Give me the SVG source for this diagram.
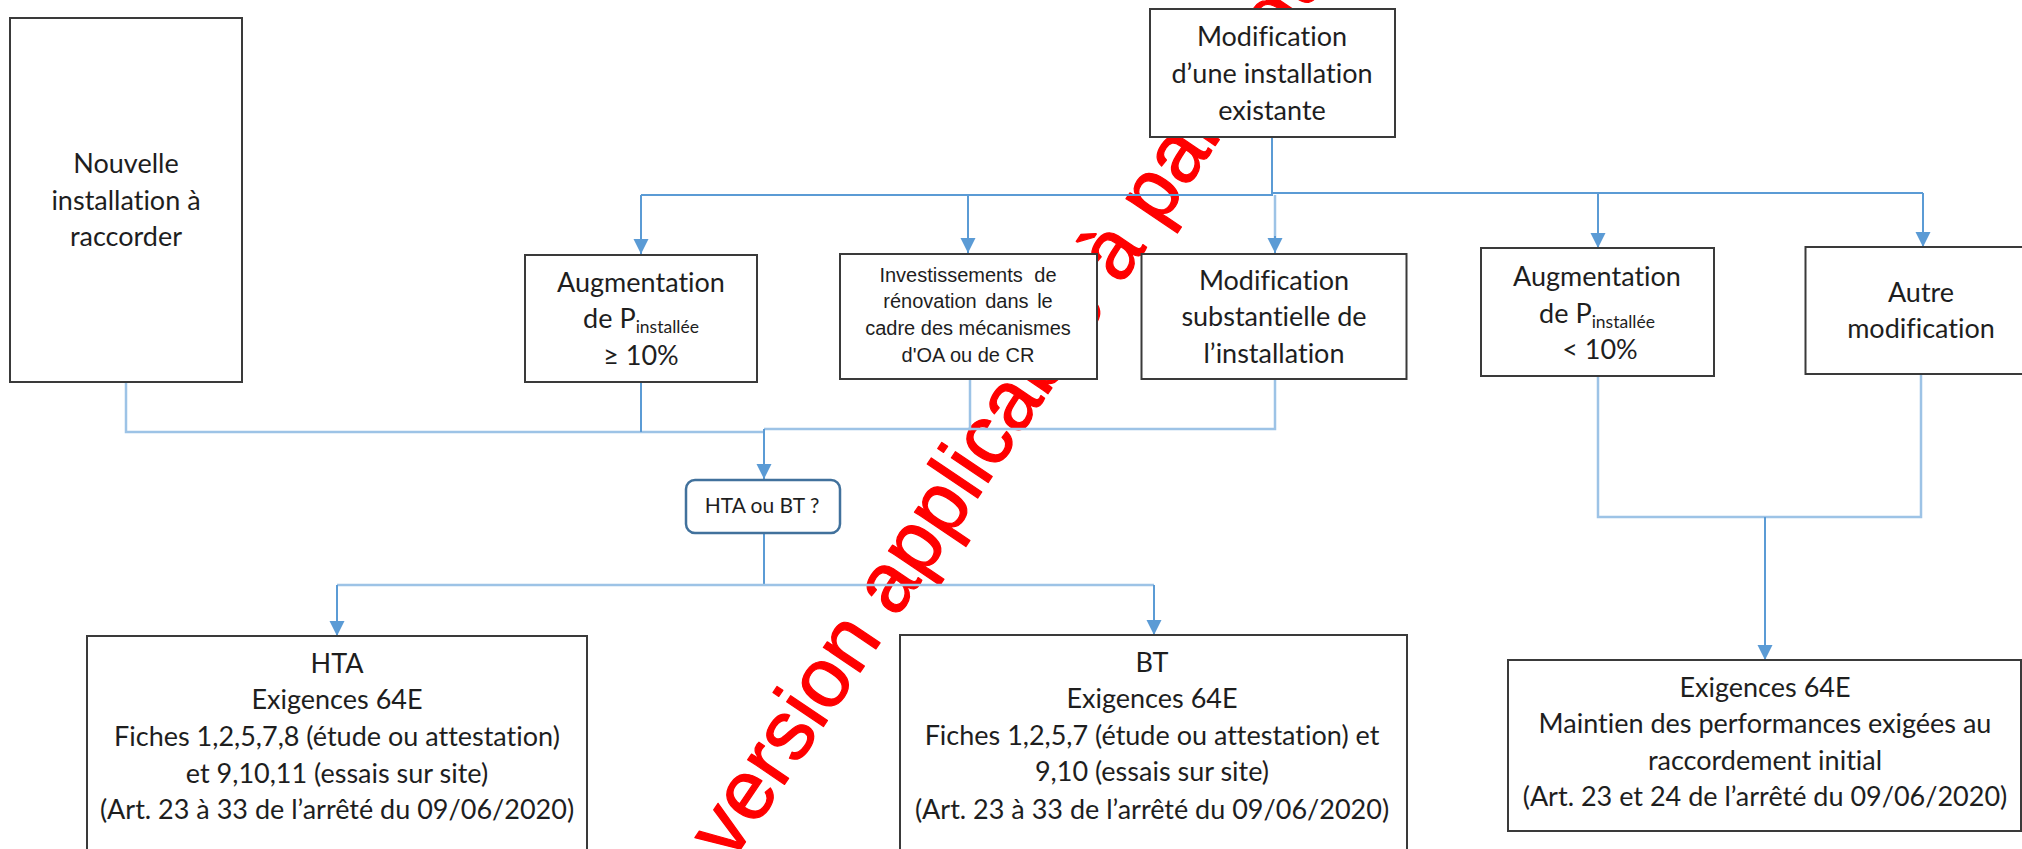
<svg xmlns="http://www.w3.org/2000/svg" width="2022" height="849" viewBox="0 0 2022 849">
  <style>
    .box { fill: #ffffff; stroke: #3a3a3a; stroke-width: 2; }
    .decision { fill: #ffffff; stroke: #41719c; stroke-width: 2.5; }
    .t { font-family: Lato, "Liberation Sans", sans-serif; font-size: 27px; fill: #1e1e1e; text-anchor: middle; font-variant-ligatures: none; }
    .sub { font-size: 17.5px; }
    .small { font-family: "Liberation Sans", Arial, sans-serif; font-size: 20px; fill: #1e1e1e; text-anchor: middle; }
    .q { font-family: Lato, "Liberation Sans", sans-serif; font-size: 21px; fill: #1e1e1e; text-anchor: middle; }
    .wire { fill: none; stroke: #5b9bd5; stroke-width: 2; }
    .wire-light { fill: none; stroke: #9dc3e6; stroke-width: 2.5; }
    .arrow { fill: none; stroke: #5b9bd5; stroke-width: 2; marker-end: url(#head); }
    .watermark { font-family: "Liberation Sans", Arial, sans-serif; font-size: 84px; fill: #ff0000; stroke: #ff0000; stroke-width: 1.2; stroke-linejoin: round; }
  </style>
  <defs>
    <marker id="head" markerUnits="userSpaceOnUse" markerWidth="16" markerHeight="16" refX="15" refY="7.5" orient="auto">
      <path d="M0,0 L15,7.5 L0,15 z" fill="#5b9bd5"/>
    </marker>
  </defs>

  <rect width="2022" height="849" fill="#ffffff"/>

  <!-- diagonal red stamp behind the chart -->
  <text class="watermark" transform="translate(731.6,862.8) rotate(-56)">version applicable à partir du</text>

  <g id="connectors">
    <!-- fan-out from the existing installation -->
    <path class="wire" d="M1272,137 V195 H641"/>
    <path class="arrow" d="M641,195 V254"/>
    <path class="arrow" d="M968,195 V253"/>
    <path class="wire-light" d="M1275,195 V238"/>
    <path class="arrow" d="M1275,236 V253"/>
    <path class="wire" d="M1273,193 H1923"/>
    <path class="arrow" d="M1598,193 V248"/>
    <path class="arrow" d="M1923,193 V247"/>
    <!-- merge towards the voltage question -->
    <path class="wire-light" d="M126,382 V432 H764"/>
    <path class="wire" d="M641,382 V432"/>
    <path class="wire-light" d="M970,379 V429 H764"/>
    <path class="wire-light" d="M1275,379 V429 H968"/>
    <path class="arrow" d="M764,429 V479"/>
    <!-- HTA / BT split -->
    <path class="wire" d="M764,534 V585"/>
    <path class="wire-light" d="M337,585 H1154"/>
    <path class="arrow" d="M337,585 V636"/>
    <path class="arrow" d="M1154,585 V635"/>
    <!-- small changes -->
    <path class="wire-light" d="M1598,376 V517 H1921 V374"/>
    <path class="arrow" d="M1765,517 V660"/>
  </g>

  <g id="nouvelle">
    <rect class="box" x="10" y="18" width="232" height="364"/>
    <text class="t" x="126" y="173">Nouvelle</text>
    <text class="t" x="126" y="209.5">installation à</text>
    <text class="t" x="126" y="246">raccorder</text>
  </g>

  <g id="modification">
    <rect class="box" x="1150" y="9" width="245" height="128"/>
    <text class="t" x="1272" y="46">Modification</text>
    <text class="t" x="1272" y="83">d’une installation</text>
    <text class="t" x="1272" y="119.5">existante</text>
  </g>

  <g id="augmentation-plus">
    <rect class="box" x="525" y="255" width="232" height="127"/>
    <text class="t" x="641" y="291.5">Augmentation</text>
    <text class="t" x="641" y="328">de P<tspan class="sub" dy="5">installée</tspan></text>
    <text class="t" x="641" y="365">≥ 10%</text>
  </g>

  <g id="investissements">
    <rect class="box" x="840" y="254" width="257" height="125"/>
    <text class="small" x="968" y="281.5" word-spacing="6">Investissements de</text>
    <text class="small" x="968" y="307.5" word-spacing="3">rénovation dans le</text>
    <text class="small" x="968" y="335">cadre des mécanismes</text>
    <text class="small" x="968" y="361.5">d'OA ou de CR</text>
  </g>

  <g id="modification-substantielle">
    <rect class="box" x="1141.5" y="254" width="265" height="125"/>
    <text class="t" x="1274" y="289.5">Modification</text>
    <text class="t" x="1274" y="326">substantielle de</text>
    <text class="t" x="1274" y="362.5">l’installation</text>
  </g>

  <g id="augmentation-moins">
    <rect class="box" x="1481" y="248" width="233" height="128"/>
    <text class="t" x="1597" y="286">Augmentation</text>
    <text class="t" x="1597" y="322.5">de P<tspan class="sub" dy="5">installée</tspan></text>
    <text class="t" x="1600" y="359">&lt; 10%</text>
  </g>

  <g id="autre">
    <rect class="box" x="1805.5" y="247" width="232" height="127"/>
    <text class="t" x="1921" y="301.5">Autre</text>
    <text class="t" x="1921" y="338">modification</text>
  </g>

  <g id="hta-ou-bt">
    <rect class="decision" x="686" y="480" width="154" height="53" rx="9"/>
    <text class="q" x="762" y="513">HTA ou BT ?</text>
  </g>

  <g id="hta">
    <rect class="box" x="87" y="636" width="500" height="230"/>
    <text class="t" x="337" y="672.5">HTA</text>
    <text class="t" x="337" y="709">Exigences 64E</text>
    <text class="t" x="337" y="746">Fiches 1,2,5,7,8 (étude ou attestation)</text>
    <text class="t" x="337" y="782.5">et 9,10,11 (essais sur site)</text>
    <text class="t" x="337" y="818.5">(Art. 23 à 33 de l’arrêté du 09/06/2020)</text>
  </g>

  <g id="bt">
    <rect class="box" x="900" y="635" width="507" height="230"/>
    <text class="t" x="1152" y="671.5">BT</text>
    <text class="t" x="1152" y="708">Exigences 64E</text>
    <text class="t" x="1152" y="745">Fiches 1,2,5,7 (étude ou attestation) et</text>
    <text class="t" x="1152" y="781">9,10 (essais sur site)</text>
    <text class="t" x="1152" y="818.5">(Art. 23 à 33 de l’arrêté du 09/06/2020)</text>
  </g>

  <g id="maintien">
    <rect class="box" x="1508" y="660" width="513" height="171"/>
    <text class="t" x="1765" y="696.5">Exigences 64E</text>
    <text class="t" x="1765" y="733">Maintien des performances exigées au</text>
    <text class="t" x="1765" y="770">raccordement initial</text>
    <text class="t" x="1765" y="806">(Art. 23 et 24 de l’arrêté du 09/06/2020)</text>
  </g>
</svg>
